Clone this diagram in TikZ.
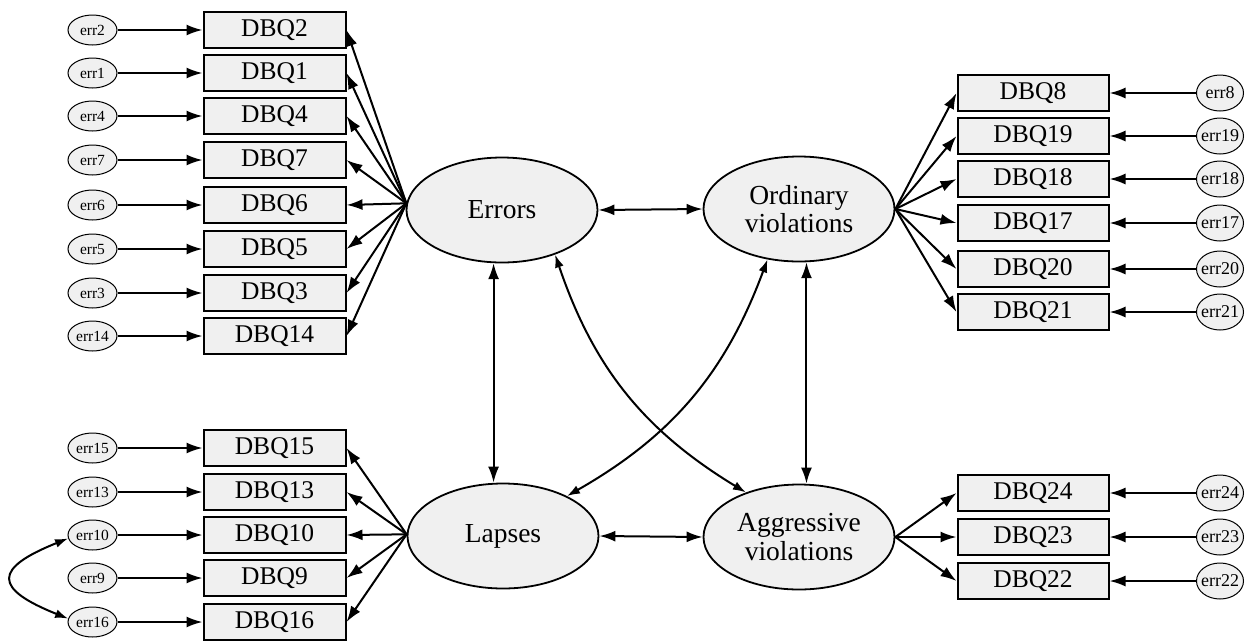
\documentclass[tikz,border=0pt]{standalone}
\usepackage{fontspec}
\setmainfont{Liberation Serif}
\usetikzlibrary{arrows.meta,shapes.geometric}
\definecolor{fillg}{RGB}{240,240,240}
\newcommand{\zw}[1]{\makebox[0pt][c]{#1}}
\begin{document}
\begin{tikzpicture}[x=1pt,y=1pt,
  obs/.style={draw, line width=2pt, fill=fillg, minimum width=142pt, minimum height=36pt, inner sep=0pt, font=\fontsize{25.5}{27}\selectfont},
  obsr/.style={obs, minimum width=151pt},
  lat/.style={draw, ellipse, line width=1.8pt, fill=fillg, minimum width=191pt, minimum height=105pt, inner sep=0pt, align=center, font=\fontsize{27.5}{28.5}\selectfont},
  errl/.style={draw, ellipse, line width=1pt, fill=fillg, minimum width=49pt, minimum height=30pt, inner sep=0pt, font=\fontsize{15.5}{16}\selectfont},
  errr/.style={errl, minimum width=47pt, minimum height=36pt, font=\fontsize{18}{19}\selectfont},
  arr/.style={line width=2pt, -{Latex[length=16pt,width=11pt]}},
  darr/.style={line width=2pt, {Latex[length=16pt,width=11pt]}-{Latex[length=16pt,width=11pt]}},
  carr/.style={line width=2pt, {Latex[length=13pt,width=9pt]}-{Latex[length=13pt,width=9pt]}},
]
\useasboundingbox (0,0) rectangle (1245,-641);

% latent variables
\node[lat] (Errors) at (502,-210) {Errors};
\node[lat] (Ordinary) at (799,-209) {Ordinary\\violations};
\node[lat] (Lapses) at (503,-536) {Lapses};
\node[lat] (Aggressive) at (799,-537) {Aggressive\\violations};

% Errors indicators
\foreach \n/\y in {2/30,1/73,4/116,7/160,6/205,5/249,3/293,14/336}{
  \node[obs] (q\n) at (274.5,-\y) {DBQ\n};
  \node[errl] (e\n) at (92.5,-\y) {\zw{err\n}};
  \draw[arr] (e\n) -- (q\n);
  \draw[arr] (Errors.176) -- (q\n.east);
}

% Lapses indicators
\foreach \n/\y in {15/448,13/492,10/535,9/578,16/622}{
  \node[obs] (q\n) at (274.5,-\y) {DBQ\n};
  \node[errl] (e\n) at (92.5,-\y) {\zw{err\n}};
  \draw[arr] (e\n) -- (q\n);
  \draw[arr] (Lapses.179) -- (q\n.east);
}

% Ordinary violations indicators
\foreach \n/\y in {8/93,19/136,18/179,17/223,20/269,21/312}{
  \node[obsr] (q\n) at (1033,-\y) {DBQ\n};
  \node[errr] (e\n) at (1220,-\y) {\zw{err\n}};
  \draw[arr] (e\n) -- (q\n);
  \draw[arr] (Ordinary.east) -- (q\n.west);
}

% Aggressive violations indicators
\foreach \n/\y in {24/493,23/537,22/581}{
  \node[obsr] (q\n) at (1033,-\y) {DBQ\n};
  \node[errr] (e\n) at (1220,-\y) {\zw{err\n}};
  \draw[arr] (e\n) -- (q\n);
  \draw[arr] (Aggressive.east) -- (q\n.west);
}

% error covariance
\draw[carr] (e10.188) .. controls +(-75,-30) and +(-75,30) .. (e16.172);

% latent covariances
\draw[darr] (Errors.east) -- (Ordinary.west);
\draw[darr] (Lapses.east) -- (Aggressive.west);
\draw[darr] (Errors.261) -- (Errors.261 |- Lapses.north);
\draw[darr] (Ordinary.278) -- (Ordinary.278 |- Aggressive.north);
\draw[carr] (Errors.-40) to[bend right=20] (Aggressive.140);
\draw[carr] (Ordinary.238) to[bend left=20] (Lapses.32);
\end{tikzpicture}
\end{document}
